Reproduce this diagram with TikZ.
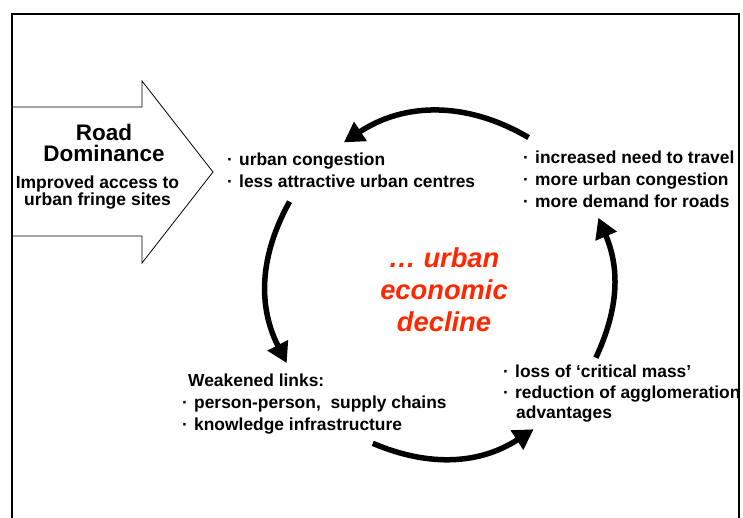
\documentclass[tikz,border=0pt]{standalone}
\usepackage{fontspec}
\setmainfont{Liberation Sans}
\usetikzlibrary{arrows.meta}

\definecolor{declinered}{RGB}{255,40,0}
\newcommand\dotitem{\makebox[12pt][l]{·}}

\begin{document}
\begin{tikzpicture}[x=1pt,y=1pt,
  bullets/.style={anchor=base west,align=left,inner sep=0pt,
    font=\fontsize{17.4}{22}\selectfont\bfseries},
  headline/.style={anchor=base,align=center,inner sep=0pt,
    font=\fontsize{22.5}{21}\selectfont\bfseries},
  subline/.style={anchor=base,align=center,inner sep=0pt,
    font=\fontsize{17.5}{16}\selectfont\bfseries},
  outcome/.style={anchor=base,align=center,inner sep=0pt,text=declinered,
    font=\fontsize{27.3}{32}\selectfont\bfseries\itshape},
  cyclearrow/.style={-{Triangle[length=20pt,width=22pt]},line width=5.5pt}]
\useasboundingbox (0,0) rectangle (743,518);
\clip (0,0) rectangle (743,518);

% road arrow on the left (base of each node = its last line)
\draw[line width=0.8pt] (12,411) -- (142,411) -- (142,437) -- (213,346)
  -- (142,255) -- (142,282) -- (12,282);
\node[headline] (road) at (104,356) {Road\\Dominance};
\node[subline] (access) at (97.5,312) {Improved access to\\urban fringe sites};

% the four stages
\node[bullets] (congestion) at (227,330)
  {\dotitem urban congestion\\\dotitem less attractive urban centres};
\node[bullets] (travel) at (523,310)
  {\dotitem increased need to travel\\\dotitem more urban congestion\\
   \dotitem more demand for roads};
\node[bullets] (links) at (182,87)
  {\hspace{6pt}Weakened links:\\\dotitem person-person,~ supply chains\\
   \dotitem knowledge infrastructure};
\node[bullets] (mass) at (503,99)
  {\dotitem loss of ‘critical mass’\\[-1pt]\dotitem reduction of agglomeration\\[-2pt]
   \hspace{13pt}advantages};
\node[outcome] (decline) at (444,186) {… urban\\economic\\decline};

% cycle round the centre
\coordinate (hub) at (440,233);
\path (hub) +(59:172) coordinate (from-travel) +(124:172) coordinate (to-congestion)
  +(151:172) coordinate (from-congestion) +(207:172) coordinate (to-links)
  +(247:172) coordinate (from-links) +(303:172) coordinate (to-mass)
  +(335:172) coordinate (from-mass) +(23:172) coordinate (to-travel);
\draw[cyclearrow] (from-travel) to[bend right=32] (to-congestion);
\draw[cyclearrow] (from-congestion) to[bend right=28] (to-links);
\draw[cyclearrow] (from-links) to[bend right=28] (to-mass);
\draw[cyclearrow] (from-mass) to[bend right=24] (to-travel);

% slide frame
\draw[line width=1.3pt] (12,-10) |- (739,504) -- (739,-10);
\end{tikzpicture}
\end{document}
